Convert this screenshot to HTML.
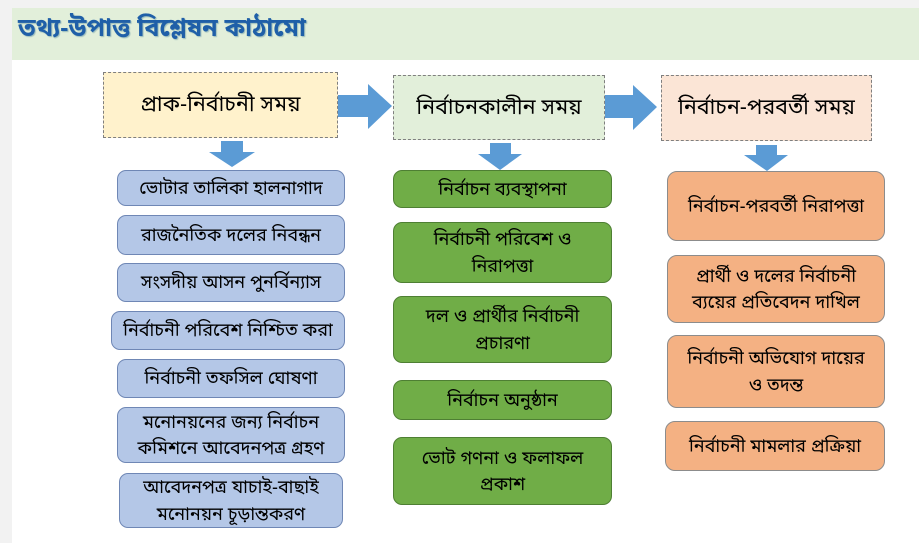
<!DOCTYPE html>
<html><head><meta charset="utf-8"><style>
body{margin:0;width:919px;height:543px;background:#f2f2f2;position:relative;overflow:hidden;font-family:"Liberation Sans","Noto Sans Bengali","Lohit Bengali","FreeSans",sans-serif;}
.a{position:absolute;box-sizing:border-box;display:flex;align-items:center;justify-content:center;text-align:center;color:#000;line-height:1.45;}
.h{border:1px dashed #7f7f7f;font-size:21.5px;}
.b{border:1px solid #6f87b5;background:#b4c7e7;border-radius:9px;font-size:18px;}
.g{border:1px solid #4e7f33;background:#70ad47;border-radius:9px;font-size:18px;}
.o{border:1px solid #8c8c8c;background:#f4b183;border-radius:10px;font-size:18px;}
svg{position:absolute;left:0;top:0}
</style></head><body>
<div style="position:absolute;left:12px;top:60px;width:907px;height:483px;background:#fff"></div>
<div style="position:absolute;left:12px;top:8px;width:907px;height:52px;background:#e2efda"></div>
<div style="position:absolute;left:18px;top:14px;font-size:25px;color:#1f5fa8;font-weight:bold;text-shadow:1px 1px 1px #9bb">তথ্য-উপাত্ত বিশ্লেষন কাঠামো</div>
<div class="a h" style="left:103px;top:72px;width:235px;height:66px;background:#fff2cc">প্রাক-নির্বাচনী সময়</div>
<div class="a h" style="left:393px;top:75px;width:212px;height:65px;background:#e2efda">নির্বাচনকালীন সময়</div>
<div class="a h" style="left:661px;top:75px;width:211px;height:66px;background:#fbe5d6">নির্বাচন-পরবর্তী সময়</div>
<svg width="919" height="543">
<g fill="#5b9bd5">
<polygon points="338,95 368,95 368,84 392,106 368,129 368,117 338,117"/>
<polygon points="605,95 633,95 633,85 657,107 633,130 633,118 605,118"/>
<polygon points="221,141 243,141 243,152 255,152 232,167 209,152 221,152"/>
<polygon points="490,143 511,143 511,154 522,154 500,170 478,154 490,154"/>
<polygon points="756,145 777,145 777,155 788,155 767,171 744,155 756,155"/>
</g></svg>
<div class="a b" style="left:117px;top:170px;width:228px;height:36px">ভোটার তালিকা হালনাগাদ</div>
<div class="a b" style="left:117px;top:215px;width:228px;height:40px">রাজনৈতিক দলের নিবন্ধন</div>
<div class="a b" style="left:117px;top:263px;width:228px;height:39px">সংসদীয় আসন পুনর্বিন্যাস</div>
<div class="a b" style="left:111px;top:311px;width:234px;height:39px">নির্বাচনী পরিবেশ নিশ্চিত করা</div>
<div class="a b" style="left:117px;top:359px;width:228px;height:39px">নির্বাচনী তফসিল ঘোষণা</div>
<div class="a b" style="left:117px;top:407px;width:228px;height:56px">মনোনয়নের জন্য নির্বাচন<br>কমিশনে আবেদনপত্র গ্রহণ</div>
<div class="a b" style="left:119px;top:473px;width:224px;height:55px">আবেদনপত্র যাচাই-বাছাই<br>মনোনয়ন চূড়ান্তকরণ</div>
<div class="a g" style="left:393px;top:170px;width:219px;height:38px">নির্বাচন ব্যবস্থাপনা</div>
<div class="a g" style="left:393px;top:222px;width:219px;height:61px">নির্বাচনী পরিবেশ ও<br>নিরাপত্তা</div>
<div class="a g" style="left:393px;top:296px;width:219px;height:67px">দল ও প্রার্থীর নির্বাচনী<br>প্রচারণা</div>
<div class="a g" style="left:393px;top:380px;width:219px;height:40px">নির্বাচন অনুষ্ঠান</div>
<div class="a g" style="left:393px;top:437px;width:219px;height:68px">ভোট গণনা ও ফলাফল<br>প্রকাশ</div>
<div class="a o" style="left:667px;top:171px;width:218px;height:70px">নির্বাচন-পরবর্তী নিরাপত্তা</div>
<div class="a o" style="left:667px;top:255px;width:218px;height:68px">প্রার্থী ও দলের নির্বাচনী<br>ব্যয়ের প্রতিবেদন দাখিল</div>
<div class="a o" style="left:667px;top:335px;width:218px;height:73px">নির্বাচনী অভিযোগ দায়ের<br>ও তদন্ত</div>
<div class="a o" style="left:665px;top:421px;width:220px;height:50px">নির্বাচনী মামলার প্রক্রিয়া</div>
</body></html>
